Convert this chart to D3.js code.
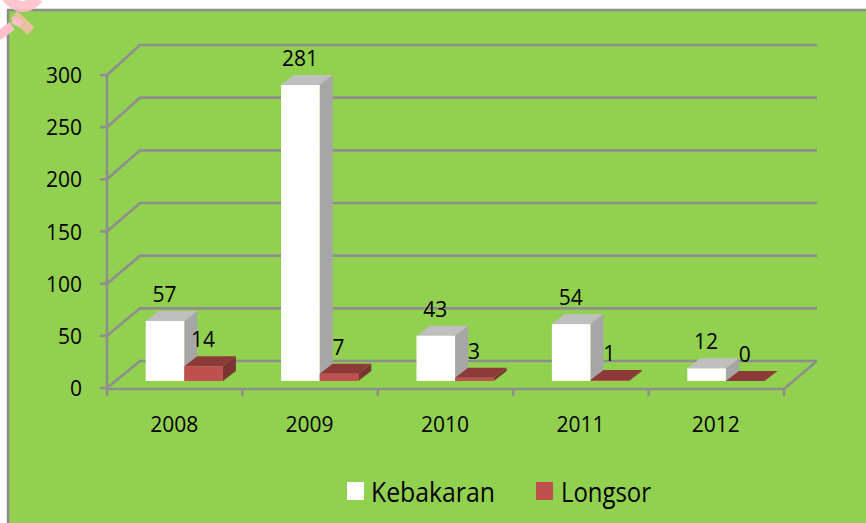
<!DOCTYPE html>
<html><head><meta charset="utf-8">
<script src="https://cdn.jsdelivr.net/npm/d3@7"></script>
<style>html,body{margin:0;padding:0;background:#fff;overflow:hidden}svg{display:block}text{font-family:"Open Sans",sans-serif;fill:#000}</style>
</head><body><svg id="c" width="866" height="523"></svg>
<script>
const years = ["2008","2009","2010","2011","2012"];
const seriesNames = ["Kebakaran","Longsor"];
const kebakaran = [57,281,43,54,12];
const longsor = [14,7,3,1,0];
const yTicks = [0,50,100,150,200,250,300];

const svg = d3.select("#c");
const green="#92d050", grid="#8e8e8e";
const frontFill=["#ffffff","#c0504d"], sideFill=["#a6a6a6","#7a3432"], topFill=["#bfbfbf","#8c3a38"], legendFill=["#ffffff","#c0504d"];
const series=[kebakaran,longsor];

svg.append("rect").attr("x",8).attr("y",10).attr("width",870).attr("height",530).attr("fill",green).attr("stroke","#8c8c8c").attr("stroke-width",2.5);

const x=d3.scaleBand().domain(years).range([107,784]);
const y=d3.scaleLinear().domain([0,300]).range([388,75]);
const yBack=d3.scaleLinear().domain([0,300]).range([361,45]);
const barY=d3.scaleLinear().domain([0,300]).range([381,65]);
const dxBack=33;

const g=svg.append("g").attr("fill","none").attr("stroke",grid).attr("stroke-width",2.6);
g.selectAll("path.g").data(yTicks).join("path").attr("class","g")
 .attr("d",v=>`M${x.range()[0]},${y(v)}L${x.range()[0]+dxBack},${yBack(v)}L${x.range()[1]+dxBack},${yBack(v)}`);
g.append("path").attr("d",`M${x.range()[0]},${y(300)}V${y(0)+1}L${x.range()[1]},${y(0)+1}L${x.range()[1]+dxBack},${yBack(0)}`);
g.selectAll("line.yt").data(yTicks).join("line").attr("class","yt").attr("x1",100).attr("x2",107).attr("y1",v=>y(v)).attr("y2",v=>y(v));
const xEdges=[...years.map(d=>x(d)),x.range()[1]];
g.selectAll("line.xt").data(xEdges).join("line").attr("class","xt").attr("x1",d=>d).attr("x2",d=>d).attr("y1",388).attr("y2",396);

// bars
const barInset=38.7, barW=38.6, depthX=13, depthY=10;
const baseY=barY(0);
const items=[];
years.forEach((yr,i)=>series.forEach((s,k)=>items.push({yr,k,v:s[i]})));
const bars=svg.append("g").selectAll("g").data(items).join("g");
const bx=d=>x(d.yr)+barInset+d.k*barW;
bars.append("path").attr("fill",d=>sideFill[d.k]).attr("d",d=>`M${bx(d)+barW},${barY(d.v)}l${depthX},${-depthY}V${baseY-depthY}l${-depthX},${depthY}Z`);
bars.append("path").attr("fill",d=>topFill[d.k]).attr("d",d=>`M${bx(d)},${barY(d.v)}l${depthX},${-depthY}h${barW}l${-depthX},${depthY}Z`);
bars.append("rect").attr("fill",d=>frontFill[d.k]).attr("x",bx).attr("y",d=>barY(d.v)).attr("width",barW).attr("height",d=>baseY-barY(d.v));
bars.append("text").attr("x",d=>bx(d)+barW/2-0.5).attr("y",d=>barY(d.v)-depthY-9).attr("text-anchor","middle").attr("font-size",21).text(d=>d.v);

// axis labels
svg.append("g").selectAll("text").data(yTicks).join("text").attr("x",82).attr("y",v=>y(v)+8).attr("text-anchor","end").attr("font-size",21).text(v=>v);
svg.append("g").selectAll("text").data(years).join("text").attr("x",d=>x(d)+x.bandwidth()/2-0.5).attr("y",432).attr("text-anchor","middle").attr("font-size",21).text(d=>d);

// legend
const lg=[{x:347,t:371,w:124},{x:536,t:561,w:90}];
lg.forEach((l,i)=>{
 svg.append("rect").attr("x",l.x).attr("y",482).attr("width",17).attr("height",18).attr("fill",legendFill[i]);
 svg.append("text").attr("x",l.t).attr("y",502).attr("font-size",28).attr("textLength",l.w).attr("lengthAdjust","spacingAndGlyphs").text(seriesNames[i]);
});

// corner watermark
const wm=svg.append("g").attr("fill","none");
wm.append("path").attr("d","M-2,36 L12,26").attr("stroke","#ffc0cb").attr("stroke-width",9);
wm.append("path").attr("d","M6,-4 Q22,16 38,-2").attr("stroke","#ffc0cb").attr("stroke-width",11).attr("opacity",0.9);
wm.append("path").attr("d","M14,15 L31,31").attr("stroke","#e6c0a0").attr("stroke-width",10);
wm.append("path").attr("d","M13,20 L21,24").attr("stroke","#ffc0cb").attr("stroke-width",7);
</script></body></html>
